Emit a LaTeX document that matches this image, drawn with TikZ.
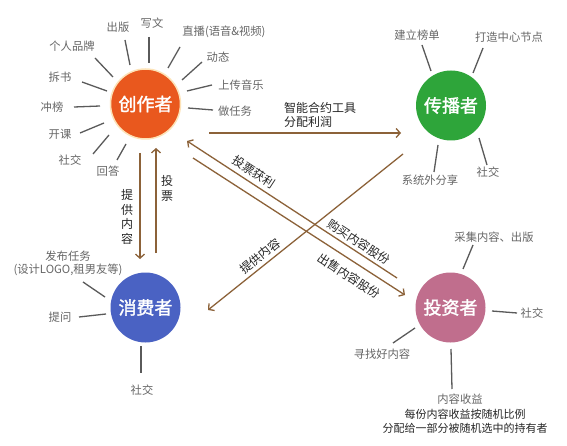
\documentclass[tikz,border=0pt]{standalone}
\usepackage{fontspec}
\setmainfont{Noto Sans CJK SC}
\newfontfamily\rolefont[FakeBold=1.6]{Noto Sans CJK SC}
\usetikzlibrary{arrows.meta}
\definecolor{cOrange}{HTML}{E9581E}
\definecolor{cGreen}{HTML}{2EA53A}
\definecolor{cBlue}{HTML}{4A62C3}
\definecolor{cPink}{HTML}{C06E8D}
\definecolor{cBrown}{HTML}{8C6239}
\definecolor{cGray}{HTML}{666666}
\definecolor{cTick}{HTML}{5A5A5A}
\begin{document}
\begin{tikzpicture}[x=1pt,y=-1pt,
  role/.style={circle, minimum size=70pt, inner sep=0pt, text=white, font=\fontsize{18}{20}\rolefont},
  lbl/.style={text=cGray, font=\fontsize{11.3}{13}\selectfont, inner sep=1pt, align=center},
  tick/.style={draw=cTick, line width=1.3pt},
  flow/.style={draw=cBrown, line width=1.3pt, -{Straight Barb[length=4pt,width=9pt,line width=1.3pt]}},
  flowlbl/.style={font=\fontsize{12}{14.5}\selectfont, text=black!85, inner sep=1pt},
  note/.style={font=\fontsize{11}{14}\selectfont, text=black!85, inner sep=1pt, align=center}]
\useasboundingbox[fill=white] (0,0) rectangle (567,446);

% role circles
\node[role, fill=cOrange, draw=yellow!20!orange!25, line width=1.5pt] (creator) at (145.5,104) {创作者};
\node[role, fill=cGreen] (spreader) at (451,105.5) {传播者};
\node[role, fill=cBlue] (consumer) at (145.5,307.5) {消费者};
\node[role, fill=cPink] (investor) at (450.5,307.5) {投资者};

% creator labels
\node[lbl] (c1) at (118,27) {出版};
\node[lbl] (c2) at (152,23) {写文};
\node[lbl] (c3) at (224,32) {直播(语音\&视频)};
\node[lbl] (c4) at (218,57) {动态};
\node[lbl] (c5) at (241,85) {上传音乐};
\node[lbl] (c6) at (235,111) {做任务};
\node[lbl] (c7) at (72,46) {个人品牌};
\node[lbl] (c8) at (60,77) {拆书};
\node[lbl] (c9) at (52,107) {冲榜};
\node[lbl] (c10) at (60,134) {开课};
\node[lbl] (c11) at (70,160) {社交};
\node[lbl] (c12) at (108,171) {回答};
\draw[tick] (125,40) -- (130,65);
\draw[tick] (149,37) -- (149,63);
\draw[tick] (180,47) -- (168,68);
\draw[tick] (202,62) -- (182,80);
\draw[tick] (212,85) -- (187,91);
\draw[tick] (213,110) -- (188,108);
\draw[tick] (95,58) -- (113,77);
\draw[tick] (82,82) -- (107,91);
\draw[tick] (74,107) -- (100,106);
\draw[tick] (80,133) -- (104,123);
\draw[tick] (93,154) -- (109,135);
\draw[tick] (117,160) -- (126,144);

% spreader labels
\node[lbl] (s1) at (417,35) {建立榜单};
\node[lbl] (s2) at (509,37) {打造中心节点};
\node[lbl] (s3) at (430,180) {系统外分享};
\node[lbl] (s4) at (488,172) {社交};
\draw[tick] (422,45) -- (431,71);
\draw[tick] (483,48) -- (473,73);
\draw[tick] (438,145) -- (434,172);
\draw[tick] (479,138) -- (487,165);

% consumer labels
\node[lbl] (u1) at (68,263.5) {发布任务\\(设计LOGO,租男友等)};
\node[lbl] (u2) at (60,317) {提问};
\node[lbl] (u3) at (142,390) {社交};
\draw[tick] (83,282) -- (105,297);
\draw[tick] (79,317) -- (106,314);
\draw[tick] (141,346) -- (141,373);

% investor labels
\node[lbl] (i1) at (494,237) {采集内容、出版};
\node[lbl] (i2) at (532,313) {社交};
\node[lbl] (i3) at (382,354) {寻找好内容};
\node[lbl] (i4) at (460,399) {内容收益};
\node[note] (i5) at (465,421.5) {每份内容收益按随机比例\\分配给一部分被随机选中的持有者};
\draw[tick] (473,245) -- (463,269);
\draw[tick] (492,311) -- (517,313);
\draw[tick] (393,343) -- (415,328);
\draw[tick] (451,349) -- (452,389);

% flow end points
\coordinate (hA) at (209,133);
\coordinate (hB) at (401,133);
\coordinate (dA) at (140,153);
\coordinate (dB) at (140,259);
\coordinate (uA) at (156,253);
\coordinate (uB) at (156,148);
\coordinate (pA) at (397,278);
\coordinate (pB) at (187,141);
\coordinate (qA) at (193,158);
\coordinate (qB) at (405,295);
\coordinate (rA) at (403,154);
\coordinate (rB) at (208,310);

\draw[flow] (hA) -- (hB);
\draw[flow] (dA) -- (dB);
\draw[flow] (uA) -- (uB);
\draw[flow] (pA) -- (pB);
\draw[flow] (qA) -- (qB);
\draw[flow] (rA) -- (rB);

% flow labels
\node[flowlbl, align=left, anchor=west] (f1) at (283,115) {智能合约工具\\分配利润};
\node[flowlbl, align=center] (f2) at (127,217) {提\\供\\内\\容};
\node[flowlbl, align=center] (f3) at (167,188.5) {投\\票};
\node[flowlbl, rotate=-33] (f4) at (254,172) {投票获利};
\node[flowlbl, rotate=-33] (f5) at (359,242) {购买内容股份};
\node[flowlbl, rotate=-33] (f6) at (349,276) {出售内容股份};
\node[flowlbl, rotate=38.7] (f7) at (260,256) {提供内容};
\end{tikzpicture}
\end{document}
